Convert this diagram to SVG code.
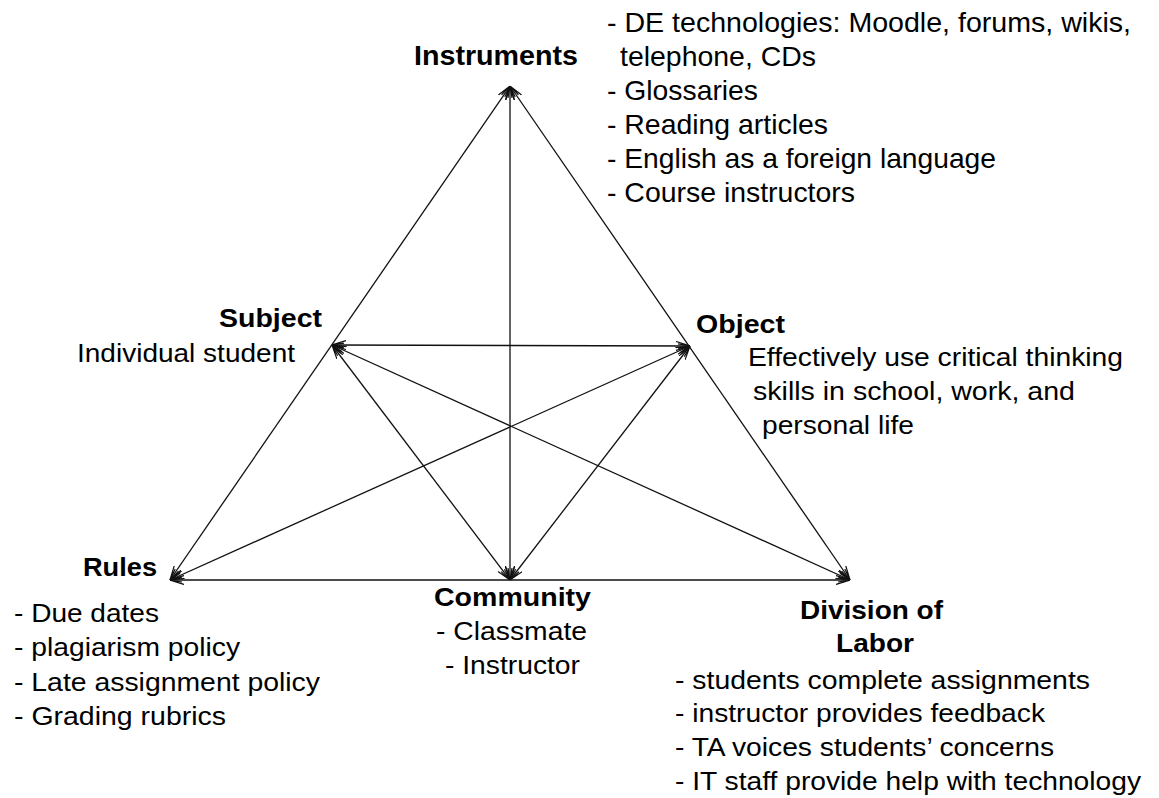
<svg xmlns="http://www.w3.org/2000/svg" width="1159" height="798" viewBox="0 0 1159 798">
<style>
text{font-family:"Liberation Sans",Arial,sans-serif;fill:#000;}
.h{font-weight:bold;font-size:26px;}
.t{font-size:25px;}
.n{font-size:28px;}
.c{stroke:#111;stroke-width:1.3;fill:none;marker-start:url(#ar);marker-end:url(#ar);}
</style>
<defs>
<marker id="ar" viewBox="0 0 14 10" refX="14" refY="5" markerWidth="14" markerHeight="10" markerUnits="userSpaceOnUse" orient="auto-start-reverse">
<path d="M0,0.5 L14,5 L0,9.5 M2,3 L14,5 L2,7" fill="none" stroke="#111" stroke-width="1.2"/>
</marker>
</defs>
<rect width="1159" height="798" fill="#fff"/>
<g id="connectors">
<line class="c" x1="510" y1="86" x2="170" y2="580"/>
<line class="c" x1="510" y1="86" x2="850" y2="580"/>
<line class="c" x1="510" y1="86" x2="510" y2="580"/>
<line class="c" x1="332" y1="345" x2="690" y2="346"/>
<line class="c" x1="332" y1="345" x2="510" y2="580"/>
<line class="c" x1="332" y1="345" x2="850" y2="580"/>
<line class="c" x1="690" y1="346" x2="170" y2="580"/>
<line class="c" x1="690" y1="346" x2="510" y2="580"/>
<line class="c" x1="170" y1="580" x2="850" y2="580"/>
</g>
<g id="instruments">
<text class="h" x="414" y="65" style="font-size:28px" textLength="164" lengthAdjust="spacingAndGlyphs">Instruments</text>
<text class="n" x="607" y="32" textLength="524" lengthAdjust="spacingAndGlyphs">- DE technologies: Moodle, forums, wikis,</text>
<text class="n" x="620" y="66" textLength="196" lengthAdjust="spacingAndGlyphs">telephone, CDs</text>
<text class="n" x="607" y="100" textLength="151" lengthAdjust="spacingAndGlyphs">- Glossaries</text>
<text class="n" x="607" y="134" textLength="221" lengthAdjust="spacingAndGlyphs">- Reading articles</text>
<text class="n" x="607" y="168" textLength="389" lengthAdjust="spacingAndGlyphs">- English as a foreign language</text>
<text class="n" x="607" y="202" textLength="248" lengthAdjust="spacingAndGlyphs">- Course instructors</text>
</g>
<g id="subject">
<text class="h" x="219" y="327" textLength="103" lengthAdjust="spacingAndGlyphs">Subject</text>
<text class="t" x="77" y="362" textLength="218" lengthAdjust="spacingAndGlyphs">Individual student</text>
</g>
<g id="object">
<text class="h" x="696" y="333" textLength="89" lengthAdjust="spacingAndGlyphs">Object</text>
<text class="t" x="748" y="366" textLength="375" lengthAdjust="spacingAndGlyphs">Effectively use critical thinking</text>
<text class="t" x="753" y="400" textLength="322" lengthAdjust="spacingAndGlyphs">skills in school, work, and</text>
<text class="t" x="762" y="434" textLength="152" lengthAdjust="spacingAndGlyphs">personal life</text>
</g>
<g id="rules">
<text class="h" x="83" y="576" textLength="74" lengthAdjust="spacingAndGlyphs">Rules</text>
<text class="t" x="14" y="622" textLength="145" lengthAdjust="spacingAndGlyphs">- Due dates</text>
<text class="t" x="14" y="656" textLength="226" lengthAdjust="spacingAndGlyphs">- plagiarism policy</text>
<text class="t" x="14" y="691" textLength="306" lengthAdjust="spacingAndGlyphs">- Late assignment policy</text>
<text class="t" x="14" y="725" textLength="212" lengthAdjust="spacingAndGlyphs">- Grading rubrics</text>
</g>
<g id="community">
<text class="h" x="434" y="606" textLength="157" lengthAdjust="spacingAndGlyphs">Community</text>
<text class="t" x="436" y="640" textLength="151" lengthAdjust="spacingAndGlyphs">- Classmate</text>
<text class="t" x="445" y="674" textLength="135" lengthAdjust="spacingAndGlyphs">- Instructor</text>
</g>
<g id="division">
<text class="h" x="800" y="619" textLength="143" lengthAdjust="spacingAndGlyphs">Division of</text>
<text class="h" x="836" y="652" textLength="78" lengthAdjust="spacingAndGlyphs">Labor</text>
<text class="t" x="675" y="689" textLength="415" lengthAdjust="spacingAndGlyphs">- students complete assignments</text>
<text class="t" x="675" y="722" textLength="370" lengthAdjust="spacingAndGlyphs">- instructor provides feedback</text>
<text class="t" x="675" y="756" textLength="379" lengthAdjust="spacingAndGlyphs">- TA voices students’ concerns</text>
<text class="t" x="675" y="790" textLength="466" lengthAdjust="spacingAndGlyphs">- IT staff provide help with technology</text>
</g>
</svg>
